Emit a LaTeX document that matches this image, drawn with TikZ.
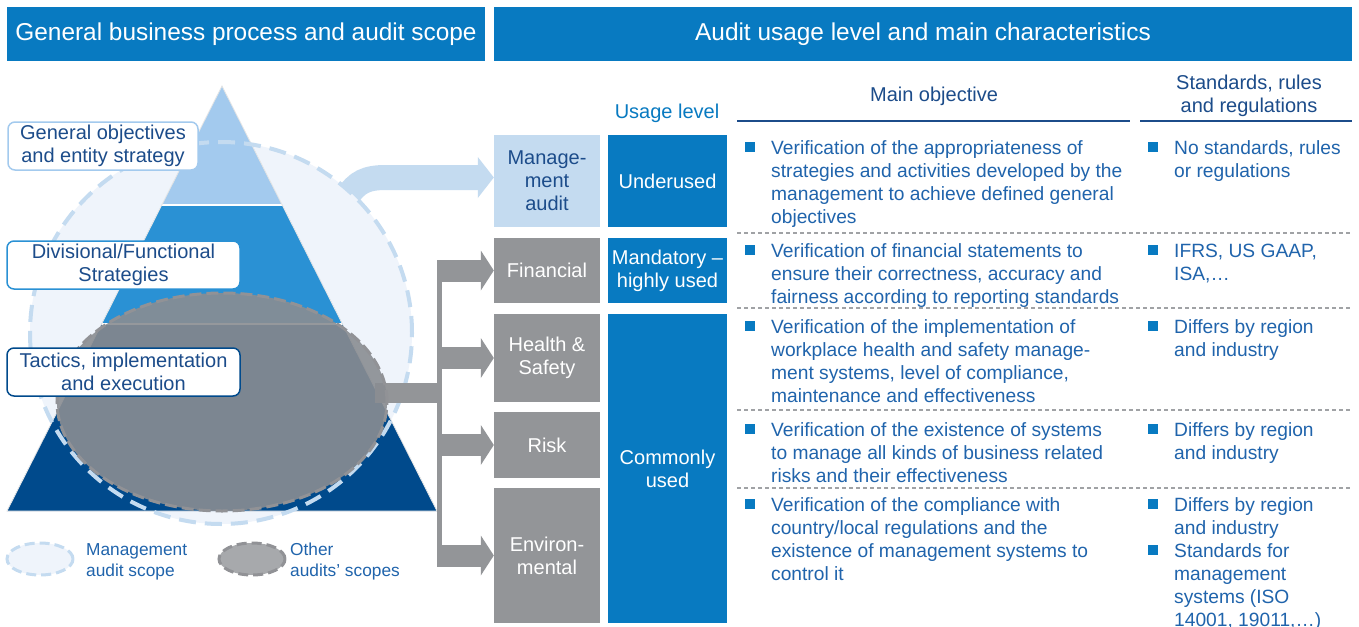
\documentclass[tikz,border=0pt]{standalone}
\usepackage{fontspec}
\setmainfont{Liberation Sans}
\usetikzlibrary{calc}

\definecolor{hdrblue}{RGB}{8,122,193}
\definecolor{lightbox}{RGB}{196,219,240}
\definecolor{boxgray}{RGB}{147,149,152}
\definecolor{pyrtop}{RGB}{163,202,238}
\definecolor{pyrmid}{RGB}{42,145,212}
\definecolor{pyrbot}{RGB}{0,74,140}
\definecolor{scopefill}{RGB}{239,244,251}
\definecolor{scopeline}{RGB}{196,219,240}
\definecolor{otherfill}{RGB}{138,141,146}
\definecolor{otherline}{RGB}{145,146,150}
\definecolor{legendgray}{RGB}{167,169,172}
\definecolor{darktext}{RGB}{28,76,138}
\definecolor{bodytext}{RGB}{32,100,172}
\definecolor{rulegray}{RGB}{160,162,165}

\newcommand{\fsz}[2]{\fontsize{#1}{#2}\selectfont}
\newcommand{\colpar}[2]{\parbox[t]{#1pt}{\raggedright #2}}

\begin{document}
\begin{tikzpicture}[x=1pt,y=-1pt,
  hdr/.style={fill=hdrblue, text=white, inner sep=0, font=\fsz{24.4}{28}},
  auditbox/.style={fill=boxgray, text=white, minimum width=106pt, inner sep=0, align=center, font=\fsz{20}{23}},
  usagebox/.style={fill=hdrblue, text=white, minimum width=119pt, inner sep=0, align=center, font=\fsz{20}{23}},
  lvlabel/.style={draw, rounded corners=7pt, line width=1.5pt, fill=white, text=darktext, align=center, font=\fsz{20}{23}, inner sep=0},
  bodytxt/.style={anchor=base west, inner sep=0, text=bodytext, font=\fsz{19.2}{23}},
  bulletsq/.style={fill=hdrblue, minimum size=10pt, inner sep=0},
  colhead/.style={text=darktext, align=center, inner sep=0, font=\fsz{20}{23}},
  legendtxt/.style={anchor=base west, inner sep=0, text=bodytext, font=\fsz{17.3}{21}},
  sepline/.style={rulegray, line width=1.1pt, dash pattern=on 4pt off 3pt},
  headrule/.style={darktext, line width=1.5pt},
  grayshaft/.style={boxgray, line width=22pt},
]
\clip (0,0) rectangle (1359,626);
\fill[white] (0,0) rectangle (1359,626);

% ---------- title bars ----------
\node[hdr, minimum width=478pt, minimum height=54pt] (ttlL) at (246,34) {General business process and audit scope};
\node[hdr, minimum width=858pt, minimum height=54pt] (ttlR) at (923,34) {Audit usage level and main characteristics};

% ---------- audit type boxes ----------
\node[auditbox, fill=lightbox, text=darktext, minimum height=92pt] (mgmt) at (547,181) {Manage-\\ment\\audit};
\node[auditbox, minimum height=65pt] (fin) at (547,270.5) {Financial};
\node[auditbox, minimum height=88pt] (hs) at (547,358) {Health \&\\Safety};
\node[auditbox, minimum height=66pt] (risk) at (547,445) {Risk};
\node[auditbox, minimum height=135pt] (env) at (547,555.5) {Environ-\\mental};

% ---------- usage level ----------
\node[text=hdrblue, inner sep=0, font=\fsz{20}{23}] (usagehd) at (667,113) {Usage level};
\node[usagebox, minimum height=92pt] (under) at (667.5,181) {Underused};
\node[usagebox, minimum height=65pt] (mand) at (667.5,270.5) {Mandatory –\\highly used};
\node[usagebox, minimum height=309pt] (common) at (667.5,468.5) {Commonly\\used};

% ---------- column headers ----------
\node[colhead] (objhd) at (934,96) {Main objective};
\node[colhead] (stdhd) at (1249,96) {Standards, rules\\and regulations};
\draw[headrule] (737,121) -- (1130,121);
\draw[headrule] (1140,121) -- (1352,121);

% row separators
\foreach \yy in {233,308,410,488} \draw[sepline] (737,\yy) -- (1352,\yy);

% ---------- row texts ----------
\node[bulletsq] (bo1) at (750,147) {};
\node[bodytxt] (obj1) at (771,154) {\colpar{380}{Verification of the appropriateness of\\strategies and activities developed by the\\management to achieve defined general\\objectives}};
\node[bulletsq] (bs1) at (1153,147) {};
\node[bodytxt] (std1) at (1174,154) {\colpar{190}{No standards, rules\\or regulations}};

\node[bulletsq] (bo2) at (750,250) {};
\node[bodytxt] (obj2) at (771,257) {\colpar{380}{Verification of financial statements to\\ensure their correctness, accuracy and\\fairness according to reporting standards}};
\node[bulletsq] (bs2) at (1153,250) {};
\node[bodytxt] (std2) at (1174,257) {\colpar{190}{IFRS, US GAAP,\\ISA,…}};

\node[bulletsq] (bo3) at (750,326) {};
\node[bodytxt] (obj3) at (771,333) {\colpar{380}{Verification of the implementation of\\workplace health and safety manage-\\ment systems, level of compliance,\\maintenance and effectiveness}};
\node[bulletsq] (bs3) at (1153,326) {};
\node[bodytxt] (std3) at (1174,333) {\colpar{190}{Differs by region\\and industry}};

\node[bulletsq] (bo4) at (750,429) {};
\node[bodytxt] (obj4) at (771,436) {\colpar{380}{Verification of the existence of systems\\to manage all kinds of business related\\risks and their effectiveness}};
\node[bulletsq] (bs4) at (1153,429) {};
\node[bodytxt] (std4) at (1174,436) {\colpar{190}{Differs by region\\and industry}};

\node[bulletsq] (bo5) at (750,504) {};
\node[bodytxt] (obj5) at (771,511) {\colpar{380}{Verification of the compliance with\\country/local regulations and the\\existence of management systems to\\control it}};
\node[bulletsq] (bs5) at (1153,504) {};
\node[bodytxt] (std5) at (1174,511) {\colpar{190}{Differs by region\\and industry}};
\node[bulletsq] (bs6) at (1153,550) {};
\node[bodytxt] (std6) at (1174,557) {\colpar{190}{Standards for\\management\\systems (ISO\\14001, 19011,…)}};

% ---------- management audit arrow ----------
\coordinate (mstart) at (347,197);
\draw[lightbox, line width=25pt] (mstart) .. controls (357,182) and (366,177.5) .. (386,177.5) -- ($(mgmt.west)+(-16,-3.5)$);
\fill[lightbox] ($(mgmt.west)+(-16,-24)$) -- ($(mgmt.west)+(0,-3.5)$) -- ($(mgmt.west)+(-16,17)$) -- cycle;

% ---------- management audit scope (fill) ----------
\coordinate (scopec) at (221,333);
\fill[scopefill] (scopec) ellipse[x radius=191pt, y radius=191pt];

% ---------- pyramid ----------
\coordinate (apex) at (222,86);
\coordinate (bl) at (7,511);
\coordinate (br) at (437,511);
\coordinate (t1l) at (161.8,205);
\coordinate (t1r) at (282.2,205);
\coordinate (t2l) at (101.6,324);
\coordinate (t2r) at (342.4,324);
\fill[pyrtop] (apex) -- (t1r) -- (t1l) -- cycle;
\fill[pyrmid] (t1l) -- (t1r) -- (t2r) -- (t2l) -- cycle;
\fill[pyrbot] (t2l) -- (t2r) -- (br) -- (bl) -- cycle;
\draw[white, line width=1.3pt] (t1l) -- (t1r) (t2l) -- (t2r);
\draw[white!80!gray, line width=0.8pt] (apex) -- (bl) -- (br) -- cycle;

% scope outline
\draw[scopeline, line width=4pt, dash pattern=on 17pt off 9pt] (scopec) ellipse[x radius=191pt, y radius=191pt];

% ---------- other audits: connector to the boxes ----------
\coordinate (gsrc) at (375,393);
\coordinate (trunk) at (439.5,393);
\draw[boxgray, line width=20pt] (gsrc) -- (trunk);
\fill[boxgray] (437,259.5) rectangle (442,566.5);
\foreach \b in {fin,hs,risk,env}{
  \draw[grayshaft] (trunk |- \b.west) ++(-2.5,0) -- ($(\b.west)+(-13,0)$);
  \fill[boxgray] ($(\b.west)+(-13,-20)$) -- (\b.west) -- ($(\b.west)+(-13,20)$) -- cycle;
}

% ---------- other audits' scope ----------
\fill[otherfill, fill opacity=0.9] (222,402) ellipse[x radius=165pt, y radius=109pt];
\draw[otherline, line width=3pt, dash pattern=on 12pt off 5pt] (222,402) ellipse[x radius=165pt, y radius=109pt];

% ---------- level labels ----------
\node[lvlabel, draw=pyrtop, minimum width=190pt, minimum height=48pt] (lvl1) at (103,146) {General objectives\\and entity strategy};
\node[lvlabel, draw=pyrmid, minimum width=233pt, minimum height=48pt] (lvl2) at (123.5,265) {Divisional/Functional\\Strategies};
\node[lvlabel, draw=pyrbot, minimum width=233pt, minimum height=48pt] (lvl3) at (123.5,372) {Tactics, implementation\\and execution};

% ---------- legend ----------
\draw[scopeline, fill=scopefill, line width=3pt, dash pattern=on 10pt off 5pt] (40,559) ellipse[x radius=33pt, y radius=16pt];
\node[legendtxt] (leg1) at (86,555) {\colpar{120}{Management\\audit scope}};
\draw[otherline, fill=legendgray, line width=3pt, dash pattern=on 10pt off 5pt] (252,559) ellipse[x radius=33pt, y radius=16pt];
\node[legendtxt] (leg2) at (290,555) {\colpar{140}{Other\\audits’ scopes}};
\end{tikzpicture}
\end{document}
